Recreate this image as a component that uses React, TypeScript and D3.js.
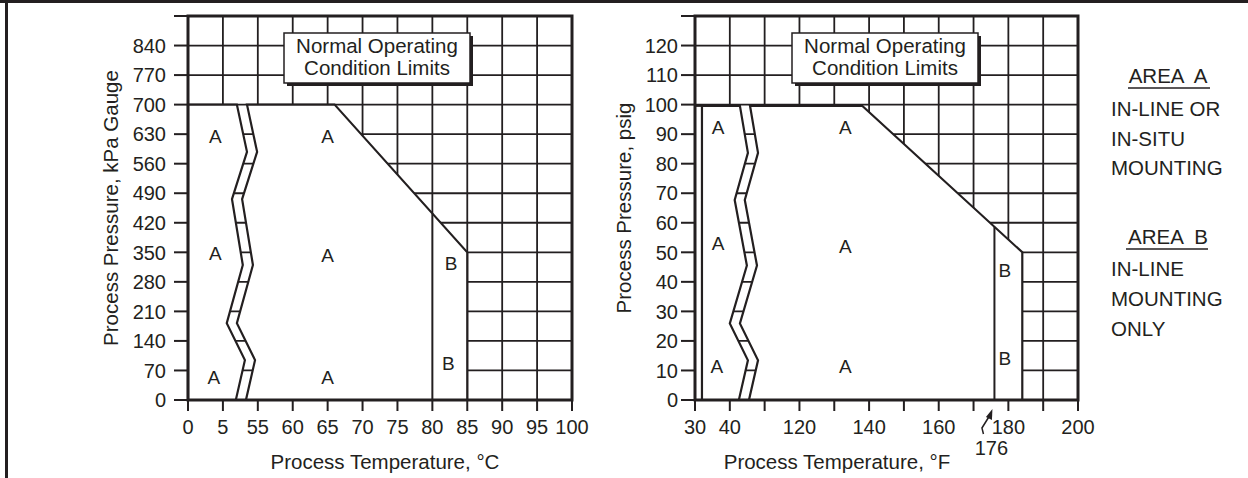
import React from 'react';
import * as d3 from 'd3';

const W = 1248;
const H = 478;
const INK = '#231f20';
const FONT = '"Liberation Sans", Arial, Helvetica, sans-serif';

// ---- °C / kPa chart ----
const tempTicksC = [0, 5, 55, 60, 65, 70, 75, 80, 85, 90, 95, 100];
const tempLabelsC = ['0', '5', '55', '60', '65', '70', '75', '80', '85', '90', '95', '100'];
const pressureTicksKPa = [0, 70, 140, 210, 280, 350, 420, 490, 560, 630, 700, 770, 840, 910];
const pressureLabelsKPa = ['0', '70', '140', '210', '280', '350', '420', '490', '560', '630', '700', '770', '840', ''];
const startC = 0;
const topKPa = 700;
// corner of the top edge, end of the diagonal, bottom right corner
const envelopeC: [number, number][] = [[66, 700], [85, 350], [85, 0]];
const areaBLineC = 80;
const zigzagC = [0.4, 0.69, 0.26, 0.57, 0.11, 0.63, 0.37];
const regionLabelsC = [
  { t: 'A', x: 3.9, y: 625 }, { t: 'A', x: 3.9, y: 347 }, { t: 'A', x: 3.7, y: 54 },
  { t: 'A', x: 65, y: 625 }, { t: 'A', x: 65, y: 343 }, { t: 'A', x: 65, y: 54 },
  { t: 'B', x: 82.7, y: 324 }, { t: 'B', x: 82.3, y: 88 },
];

// ---- °F / psig chart ----
const tempTicksF = [30, 40, 110, 120, 130, 140, 150, 160, 170, 180, 190, 200];
const tempLabelsF = ['30', '40', '', '120', '', '140', '', '160', '', '180', '', '200'];
const pressureTicksPsi = [0, 10, 20, 30, 40, 50, 60, 70, 80, 90, 100, 110, 120, 130];
const pressureLabelsPsi = ['0', '10', '20', '30', '40', '50', '60', '70', '80', '90', '100', '110', '120', ''];
const startF = 32;
const topPsi = 99.6;
const envelopeF: [number, number][] = [[138, 99.6], [184, 50], [184, 0]];
const areaBLineF = 176;
const zigzagF = [0.29, 0.52, 0.14, 0.49, 0.0, 0.52, 0.26];
const regionLabelsF = [
  { t: 'A', x: 36.6, y: 92.5 }, { t: 'A', x: 36.6, y: 53 }, { t: 'A', x: 36.3, y: 11.5 },
  { t: 'A', x: 133.2, y: 92.5 }, { t: 'A', x: 133.2, y: 52 }, { t: 'A', x: 133.2, y: 11.5 },
  { t: 'B', x: 179, y: 44 }, { t: 'B', x: 179, y: 14 },
];

// break symbol: levels as fraction of the top pressure, gap as fraction of the break band
const zigzagLevels = [1, 0.84, 0.68, 0.457, 0.26, 0.135, 0];
const zigzagGap = 0.29;

const legendA = ['IN-LINE OR', 'IN-SITU', 'MOUNTING'];
const legendB = ['IN-LINE', 'MOUNTING', 'ONLY'];

const stepC = 384 / 11;
const xC = d3.scaleLinear().domain([0, 5, 55, 100]).range([188, 188 + stepC, 188 + 2 * stepC, 572]);
const yC = d3.scaleLinear().domain([0, 910]).range([400, 16]);
const stepF = 383 / 11;
const xF = d3.scaleLinear().domain([30, 40, 110, 200]).range([695, 695 + stepF, 695 + 2 * stepF, 1078]);
const yF = d3.scaleLinear().domain([0, 130]).range([400, 16]);

const line = d3.line();

interface PanelProps {
  x: d3.ScaleLinear<number, number>;
  y: d3.ScaleLinear<number, number>;
  xTicks: number[];
  xLabels: string[];
  yTicks: number[];
  yLabels: string[];
  startT: number;
  topP: number;
  envelope: [number, number][];
  bLine: number;
  zigzag: number[];
  labels: { t: string; x: number; y: number }[];
  xTitle: string;
  yTitle: string;
  xTitleX: number;
  yTitleX: number;
  labelGap: number;
  boxX: number;
}

function Panel(p: PanelProps) {
  const { x, y } = p;
  const x0 = x(p.xTicks[0]);
  const x1 = x(p.xTicks[p.xTicks.length - 1]);
  const yb = y(0);
  const yt = y(p.yTicks[p.yTicks.length - 1]);
  const strip = d3.scaleLinear().domain([0, 1]).range([x(p.xTicks[1]), x(p.xTicks[2])]);
  const zzL: [number, number][] = p.zigzag.map((f, i) => [strip(f), y(zigzagLevels[i] * p.topP)]);
  const zzR: [number, number][] = p.zigzag.map((f, i) => [strip(f + zigzagGap), y(zigzagLevels[i] * p.topP)]);
  const leftPoly: [number, number][] = [[x(p.startT), y(0)], [x(p.startT), y(p.topP)], ...zzL];
  const rightPoly: [number, number][] = [
    ...p.envelope.map(([t, v]) => [x(t), y(v)] as [number, number]),
    ...zzR.slice().reverse(),
  ];
  const [e0, e1] = p.envelope;
  const tB = (p.bLine - e0[0]) / (e1[0] - e0[0]);
  const pB = e0[1] + tB * (e1[1] - e0[1]);
  const cy = (yb + yt) / 2;

  return (
    <g>
      {/* grid */}
      {p.xTicks.map((t, i) => (
        <line key={'gx' + i} x1={x(t)} x2={x(t)} y1={yt} y2={yb} stroke={INK} strokeWidth={1.8} />
      ))}
      {p.yTicks.map((v, i) => (
        <line key={'gy' + i} x1={x0} x2={x1} y1={y(v)} y2={y(v)} stroke={INK} strokeWidth={1.8} />
      ))}
      {p.startT > p.xTicks[0] && (
        <g>
          <rect x={x0} y={y(p.topP)} width={x(p.startT) - x0} height={yb - y(p.topP)} fill="#fff" />
          <line x1={x0} x2={x(p.startT)} y1={y(p.topP)} y2={y(p.topP)} stroke={INK} strokeWidth={2.2} />
        </g>
      )}
      {/* operating areas */}
      <path d={line(leftPoly) + 'Z'} fill="#fff" stroke={INK} strokeWidth={2.2} strokeLinejoin="miter" />
      <path d={line(rightPoly) + 'Z'} fill="#fff" stroke={INK} strokeWidth={2.2} strokeLinejoin="miter" />
      <line x1={x(p.bLine)} x2={x(p.bLine)} y1={yb} y2={y(pB)} stroke={INK} strokeWidth={2} />
      {/* frame and ticks */}
      <rect x={x0} y={yt} width={x1 - x0} height={yb - yt} fill="none" stroke={INK} strokeWidth={3} />
      {p.yTicks.map((v, i) => (
        <g key={'ty' + i}>
          <line x1={x0 - 14} x2={x0} y1={y(v)} y2={y(v)} stroke={INK} strokeWidth={2} />
          <text x={x0 - p.labelGap} y={y(v)} dy="0.36em" textAnchor="end" fontSize={20} fill={INK}>
            {p.yLabels[i]}
          </text>
        </g>
      ))}
      {p.xTicks.map((t, i) => (
        <g key={'tx' + i}>
          <line x1={x(t)} x2={x(t)} y1={yb} y2={yb + 11} stroke={INK} strokeWidth={2} />
          <text x={x(t)} y={427} dy="0.36em" textAnchor="middle" fontSize={20} fill={INK}>
            {p.xLabels[i]}
          </text>
        </g>
      ))}
      {p.labels.map((l, i) => (
        <text key={'rl' + i} x={x(l.x)} y={y(l.y)} dy="0.36em" textAnchor="middle" fontSize={19} fill={INK}>
          {l.t}
        </text>
      ))}
      {/* titles */}
      <text x={p.xTitleX} y={462} dy="0.36em" textAnchor="middle" fontSize={20.5} fill={INK}>
        {p.xTitle}
      </text>
      <text
        transform={`translate(${p.yTitleX},${cy}) rotate(-90)`}
        dy="0.36em"
        textAnchor="middle"
        fontSize={20.5}
        fill={INK}
      >
        {p.yTitle}
      </text>
      {/* limits box */}
      <rect x={p.boxX + 3} y={36} width={186} height={50} fill={INK} />
      <rect x={p.boxX} y={33} width={186} height={50} fill="#fff" stroke={INK} strokeWidth={1.5} />
      <text x={p.boxX + 93} y={53} textAnchor="middle" fontSize={20.5} fill={INK}>
        Normal Operating
      </text>
      <text x={p.boxX + 93} y={75} textAnchor="middle" fontSize={20.5} fill={INK}>
        Condition Limits
      </text>
    </g>
  );
}

export default function App() {
  const x176 = xF(areaBLineF);
  return (
    <div style={{ position: 'absolute', left: 0, top: 0 }}>
      <svg width={W} height={H} viewBox={`0 0 ${W} ${H}`} style={{ display: 'block', fontFamily: FONT }}>
        <rect x={0} y={0} width={W} height={H} fill="#fff" />
        <line x1={0} x2={W} y1={1.5} y2={1.5} stroke={INK} strokeWidth={3} />
        <line x1={6.5} x2={6.5} y1={0} y2={H} stroke={INK} strokeWidth={3} />
        <Panel
          x={xC}
          y={yC}
          xTicks={tempTicksC}
          xLabels={tempLabelsC}
          yTicks={pressureTicksKPa}
          yLabels={pressureLabelsKPa}
          startT={startC}
          topP={topKPa}
          envelope={envelopeC}
          bLine={areaBLineC}
          zigzag={zigzagC}
          labels={regionLabelsC}
          xTitle="Process Temperature, °C"
          yTitle="Process Pressure, kPa Gauge"
          xTitleX={385}
          yTitleX={111}
          labelGap={22}
          boxX={284}
        />
        <Panel
          x={xF}
          y={yF}
          xTicks={tempTicksF}
          xLabels={tempLabelsF}
          yTicks={pressureTicksPsi}
          yLabels={pressureLabelsPsi}
          startT={startF}
          topP={topPsi}
          envelope={envelopeF}
          bLine={areaBLineF}
          zigzag={zigzagF}
          labels={regionLabelsF}
          xTitle="Process Temperature, °F"
          yTitle="Process Pressure, psig"
          xTitleX={837}
          yTitleX={624}
          labelGap={17}
          boxX={792}
        />
        {/* 176 callout */}
        <text x={x176 - 3} y={448} dy="0.36em" textAnchor="middle" fontSize={20} fill={INK}>
          176
        </text>
        <path
          d={`M${x176 - 11},434 L${x176 - 12.5},428 L${x176 - 5},416`}
          fill="none"
          stroke={INK}
          strokeWidth={1.5}
        />
        <path d={`M${x176 - 2},409 L${x176 - 8.5},417 L${x176 - 2.5},420 Z`} fill={INK} />
        {/* legend */}
        <text x={1168} y={83} textAnchor="middle" fontSize={20.5} fill={INK} style={{ whiteSpace: 'pre' }}>
          {'AREA  A'}
        </text>
        <line x1={1128} x2={1210} y1={88} y2={88} stroke={INK} strokeWidth={1.5} />
        {legendA.map((s, i) => (
          <text key={'la' + i} x={1111} y={116 + i * 29.5} fontSize={20.5} fill={INK}>
            {s}
          </text>
        ))}
        <text x={1168} y={244} textAnchor="middle" fontSize={20.5} fill={INK} style={{ whiteSpace: 'pre' }}>
          {'AREA  B'}
        </text>
        <line x1={1126} x2={1208} y1={249} y2={249} stroke={INK} strokeWidth={1.5} />
        {legendB.map((s, i) => (
          <text key={'lb' + i} x={1111} y={276 + i * 30} fontSize={20.5} fill={INK}>
            {s}
          </text>
        ))}
      </svg>
    </div>
  );
}
